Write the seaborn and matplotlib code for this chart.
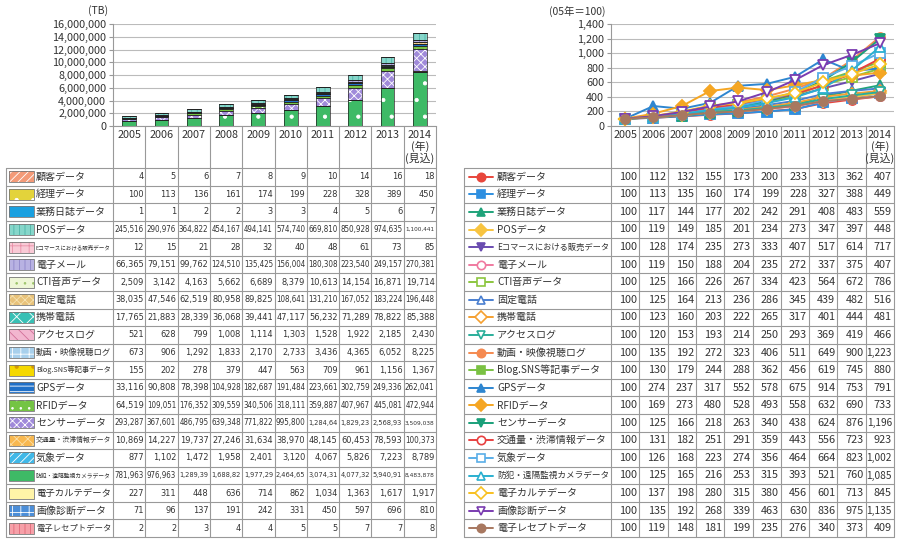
import numpy as np
import seaborn as sns
import matplotlib.pyplot as plt
from matplotlib import font_manager
from matplotlib.font_manager import FontProperties
from matplotlib.patches import Rectangle
from matplotlib.lines import Line2D
from matplotlib.ticker import FuncFormatter

# ---- data ----
years = ["2005", "2006", "2007", "2008", "2009", "2010", "2011", "2012", "2013",
         "2014\n(年)\n(見込)"]

labels = ["顧客データ", "経理データ", "業務日誌データ", "POSデータ", "Eコマースにおける販売データ",
          "電子メール", "CTI音声データ", "固定電話", "携帯電話", "アクセスログ",
          "動画・映像視聴ログ", "Blog.SNS等記事データ", "GPSデータ", "RFIDデータ", "センサーデータ",
          "交通量・渋滞情報データ", "気象データ", "防犯・遠隔監視カメラデータ", "電子カルテデータ",
          "画像診断データ", "電子レセプトデータ"]

# data volume (TB)
vol_customer = [4, 5, 6, 7, 8, 9, 10, 14, 16, 18]
vol_accounting = [100, 113, 136, 161, 174, 199, 228, 328, 389, 450]
vol_business_log = [1, 1, 2, 2, 3, 3, 4, 5, 6, 7]
vol_pos = [245516, 290976, 364822, 454167, 494141, 574740, 669810, 850928, 974635, 1100441]
vol_ecommerce = [12, 15, 21, 28, 32, 40, 48, 61, 73, 85]
vol_email = [66365, 79151, 99762, 124510, 135425, 156004, 180308, 223540, 249157, 270381]
vol_cti = [2509, 3142, 4163, 5662, 6689, 8379, 10613, 14154, 16871, 19714]
vol_fixed_phone = [38035, 47546, 62519, 80958, 89825, 108641, 131210, 167052, 183224, 196448]
vol_mobile_phone = [17765, 21883, 28339, 36068, 39441, 47117, 56232, 71289, 78822, 85388]
vol_access_log = [521, 628, 799, 1008, 1114, 1303, 1528, 1922, 2185, 2430]
vol_video_log = [673, 906, 1292, 1833, 2170, 2733, 3436, 4365, 6052, 8225]
vol_blog_sns = [155, 202, 278, 379, 447, 563, 709, 961, 1156, 1367]
vol_gps = [33116, 90808, 78398, 104928, 182687, 191484, 223661, 302759, 249336, 262041]
vol_rfid = [64519, 109051, 176352, 309559, 340506, 318111, 359887, 407967, 445081, 472944]
vol_sensor = [293287, 367601, 486795, 639348, 771822, 995800, 1284640, 1829230, 2568930, 3509038]
vol_traffic = [10869, 14227, 19737, 27246, 31634, 38970, 48145, 60453, 78593, 100373]
vol_weather = [877, 1102, 1472, 1958, 2401, 3120, 4067, 5826, 7223, 8789]
vol_camera = [781963, 976963, 1289390, 1688820, 1977290, 2464650, 3074310, 4077320, 5940910, 8483878]
vol_emr = [227, 311, 448, 636, 714, 862, 1034, 1363, 1617, 1917]
vol_imaging = [71, 96, 137, 191, 242, 331, 450, 597, 696, 810]
vol_receipt = [2, 2, 3, 4, 4, 5, 5, 7, 7, 8]

# growth index (2005 = 100)
idx_customer = [100, 112, 132, 155, 173, 200, 233, 313, 362, 407]
idx_accounting = [100, 113, 135, 160, 174, 199, 228, 327, 388, 449]
idx_business_log = [100, 117, 144, 177, 202, 242, 291, 408, 483, 559]
idx_pos = [100, 119, 149, 185, 201, 234, 273, 347, 397, 448]
idx_ecommerce = [100, 128, 174, 235, 273, 333, 407, 517, 614, 717]
idx_email = [100, 119, 150, 188, 204, 235, 272, 337, 375, 407]
idx_cti = [100, 125, 166, 226, 267, 334, 423, 564, 672, 786]
idx_fixed_phone = [100, 125, 164, 213, 236, 286, 345, 439, 482, 516]
idx_mobile_phone = [100, 123, 160, 203, 222, 265, 317, 401, 444, 481]
idx_access_log = [100, 120, 153, 193, 214, 250, 293, 369, 419, 466]
idx_video_log = [100, 135, 192, 272, 323, 406, 511, 649, 900, 1223]
idx_blog_sns = [100, 130, 179, 244, 288, 362, 456, 619, 745, 880]
idx_gps = [100, 274, 237, 317, 552, 578, 675, 914, 753, 791]
idx_rfid = [100, 169, 273, 480, 528, 493, 558, 632, 690, 733]
idx_sensor = [100, 125, 166, 218, 263, 340, 438, 624, 876, 1196]
idx_traffic = [100, 131, 182, 251, 291, 359, 443, 556, 723, 923]
idx_weather = [100, 126, 168, 223, 274, 356, 464, 664, 823, 1002]
idx_camera = [100, 125, 165, 216, 253, 315, 393, 521, 760, 1085]
idx_emr = [100, 137, 198, 280, 315, 380, 456, 601, 713, 845]
idx_imaging = [100, 135, 192, 268, 339, 463, 630, 836, 975, 1135]
idx_receipt = [100, 119, 148, 181, 199, 235, 276, 340, 373, 409]

volumes = [vol_customer, vol_accounting, vol_business_log, vol_pos, vol_ecommerce, vol_email,
           vol_cti, vol_fixed_phone, vol_mobile_phone, vol_access_log, vol_video_log,
           vol_blog_sns, vol_gps, vol_rfid, vol_sensor, vol_traffic, vol_weather, vol_camera,
           vol_emr, vol_imaging, vol_receipt]
indexes = [idx_customer, idx_accounting, idx_business_log, idx_pos, idx_ecommerce, idx_email,
           idx_cti, idx_fixed_phone, idx_mobile_phone, idx_access_log, idx_video_log,
           idx_blog_sns, idx_gps, idx_rfid, idx_sensor, idx_traffic, idx_weather, idx_camera,
           idx_emr, idx_imaging, idx_receipt]

# ---- styles ----
# (face colour, hatch, hatch colour) for the stacked bars
bar_styles = [
    ("#F39A78", "////", "white"), ("#E3D33B", ".", "white"), ("#1AA0E0", None, None),
    ("#86D6CA", "|||", "#4FB5A8"), ("#F9CAD6", "++", "#E890A8"), ("#B8B2E2", "|||", "#8E86C8"),
    ("#EEF6D6", "..", "#9CC46A"), ("#E8C27A", "xxxx", "#F6E2B0"), ("#38C0B5", "xx", "white"),
    ("#F2B6CF", "\\\\\\", "#D07098"), ("#A8D0EC", "++", "white"), ("#F5D800", ".", "#D49A00"),
    ("#2070C8", "---", "white"), ("#74C444", "..", "white"), ("#A08ADA", "xxxx", "white"),
    ("#F8B850", "xxx", "#FCE0A8"), ("#40B8E8", "////", "white"), ("#3EBA66", ".", "white"),
    ("#FFF4A8", None, None), ("#4C8ED8", "++", "white"), ("#F6A0A8", "|||", "#E06878"),
]
# (colour, marker, filled) for the index lines
line_styles = [
    ("#E8463C", "o", True), ("#2E8FE0", "s", True), ("#1FA37A", "^", True),
    ("#F8C440", "D", True), ("#6A4CB0", "v", True), ("#F07AA0", "o", False),
    ("#8CC63F", "s", False), ("#4A7FD0", "^", False), ("#F5A030", "D", False),
    ("#2AAE9A", "v", False), ("#F58A50", "o", True), ("#7AC143", "s", True),
    ("#2E86D0", "^", True), ("#F5A623", "D", True), ("#1AA07A", "v", True),
    ("#E84040", "o", False), ("#5AAEE8", "s", False), ("#2AB0D0", "^", False),
    ("#F8C020", "D", False), ("#7A3CB0", "v", False), ("#A87860", "o", True),
]

sns.set_theme(style="white")
plt.rcParams["font.family"] = ["Noto Sans CJK JP", "DejaVu Sans"]
plt.rcParams["hatch.linewidth"] = 0.6

# a condensed face for the crowded number cells, if one is installed
narrow_file = None
for f in font_manager.fontManager.ttflist:
    nm = f.name.lower()
    if ("narrow" in nm or "condensed" in nm or f.stretch in ("condensed", "semi-condensed")) \
            and f.weight in (400, "normal", "regular") and f.style == "normal":
        narrow_file = f.fname
        break
num_prop = FontProperties(fname=narrow_file) if narrow_file else FontProperties(family="Liberation Sans")

TXT = "#333333"
GRID = "#BBBBBB"
LINE = "#999999"

W, H = 900, 543
fig = plt.figure(figsize=(W / 100, H / 100), dpi=100)


def px_axes(l, t, r, b):
    return fig.add_axes([l / W, 1 - b / H, (r - l) / W, (b - t) / H])


# layout in pixels
LB = (113, 24, 436, 126)   # left chart box
RB = (611, 24, 894, 126)   # right chart box
ROW_TOP, ROW_BOT = 168, 537
N = len(labels)
row_h = (ROW_BOT - ROW_TOP) / N
x = np.arange(len(years))


def style_chart(ax, ymax, step):
    ax.set_xlim(-0.5, len(years) - 0.5)
    ax.set_ylim(0, ymax)
    ax.set_yticks(np.arange(0, ymax + 1, step))
    ax.yaxis.set_major_formatter(FuncFormatter(lambda v, _: f"{v:,.0f}"))
    ax.grid(axis="y", color=GRID, linewidth=0.8)
    ax.set_axisbelow(True)
    ax.set_xticks(x)
    ax.set_xticklabels(years, fontsize=7.8, color=TXT, linespacing=1.05)
    ax.tick_params(axis="x", length=0, pad=3)
    ax.tick_params(axis="y", length=3, width=0.8, color=LINE, labelsize=7.8,
                   labelcolor=TXT, pad=2, left=True)
    for s in ["top", "right"]:
        ax.spines[s].set_visible(False)
    for s in ["left", "bottom"]:
        ax.spines[s].set_color(LINE)
        ax.spines[s].set_linewidth(0.8)
    ax.set_xlabel("")
    ax.set_ylabel("")


# ---- left: stacked bars ----
axl = px_axes(*LB)
bottom = np.zeros(len(years))
for vals, (face, hatch, hcol) in reversed(list(zip(volumes, bar_styles))):
    vals = np.array(vals, dtype=float)
    axl.bar(x, vals, bottom=bottom, width=0.43, color=face, linewidth=0, zorder=2)
    if hatch:
        axl.bar(x, vals, bottom=bottom, width=0.43, color="none", edgecolor=hcol,
                hatch=hatch, linewidth=0, zorder=3)
    axl.bar(x, vals, bottom=bottom, width=0.43, fill=False, edgecolor="#222222",
            linewidth=0.5, zorder=4)
    bottom += vals
style_chart(axl, 16_000_000, 2_000_000)

# ---- right: index lines ----
axr = px_axes(*RB)
for vals, (c, m, filled) in zip(indexes, line_styles):
    sns.lineplot(x=x, y=vals, ax=axr, color=c, marker=m, markersize=6.5,
                 markerfacecolor=c if filled else "white", markeredgecolor=c,
                 markeredgewidth=1.3, linewidth=1.4)
style_chart(axr, 1400, 200)

# ---- tables (drawn on an overlay in pixel units) ----
ov = fig.add_axes([0, 0, 1, 1], zorder=-1)
ov.set_xlim(0, W)
ov.set_ylim(H, 0)
ov.axis("off")
fig.canvas.draw()
renderer = fig.canvas.get_renderer()


def fit(t, max_w):
    w = t.get_window_extent(renderer).width
    if w > max_w:
        t.set_fontsize(t.get_fontsize() * max_w / w)


def fmt_vol(v, last):
    s = f"{v:,}"
    if v >= 1_000_000 and not last:
        s = s[:-1]
    return s


def draw_table(box, left, kind):
    l, t, r, b = box
    col_w = (r - l) / len(years)
    edges = [l + k * col_w for k in range(len(years) + 1)]
    for e in edges:
        ov.plot([e, e], [b, ROW_BOT], color=LINE, lw=0.8)
    ov.plot([left, left], [ROW_TOP, ROW_BOT], color=LINE, lw=0.8)
    for i in range(N + 1):
        y = ROW_TOP + i * row_h
        ov.plot([left, r], [y, y], color=LINE, lw=0.8)
    for i in range(N):
        yc = ROW_TOP + (i + 0.5) * row_h
        if kind == "bar":
            face, hatch, hcol = bar_styles[i]
            ov.add_patch(Rectangle((left + 3, yc - 5.5), 25, 11, facecolor=face, lw=0))
            if hatch:
                ov.add_patch(Rectangle((left + 3, yc - 5.5), 25, 11, facecolor="none",
                                       edgecolor=hcol, hatch=hatch, lw=0))
            ov.add_patch(Rectangle((left + 3, yc - 5.5), 25, 11, fill=False,
                                   edgecolor="#777777", lw=0.6))
            tx = left + 30
            lab = ov.text(tx, yc, labels[i], fontsize=7.2, color=TXT, va="center", ha="left")
            fit(lab, l - tx - 2)
            for j, v in enumerate(volumes[i]):
                num = ov.text(edges[j + 1] - 1.5, yc, fmt_vol(v, j == len(years) - 1),
                              fontproperties=num_prop, fontsize=6.6, color=TXT,
                              va="center", ha="right")
                fit(num, col_w - 3)
        else:
            c, m, filled = line_styles[i]
            ov.add_line(Line2D([left + 5, left + 29], [yc, yc], color=c, lw=1.4))
            ov.add_line(Line2D([left + 17], [yc], marker=m, markersize=6,
                               color=c, markerfacecolor=c if filled else "white",
                               markeredgecolor=c, markeredgewidth=1.2))
            tx = left + 33
            lab = ov.text(tx, yc, labels[i], fontsize=7.2, color=TXT, va="center", ha="left")
            fit(lab, l - tx - 2)
            for j, v in enumerate(indexes[i]):
                num = ov.text(edges[j + 1] - 2, yc, f"{v:,}", fontsize=7.8, color=TXT,
                              va="center", ha="right")
                fit(num, col_w - 3)


draw_table(LB, 6, "bar")
draw_table(RB, 464, "line")

ov.text(108, 11, "(TB)", fontsize=7.5, color=TXT, ha="right", va="center")
ov.text(605, 11, "(05年＝100)", fontsize=7.5, color=TXT, ha="right", va="center")

fig.savefig("out.png", dpi=100)
